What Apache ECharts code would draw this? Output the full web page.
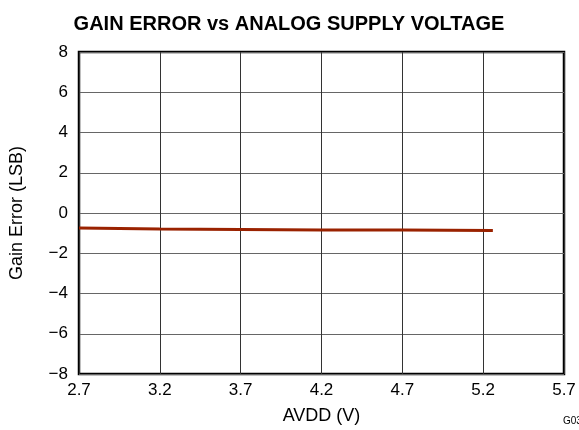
<!DOCTYPE html>
<html>
<head>
<meta charset="utf-8">
<script src="https://cdn.jsdelivr.net/npm/echarts@6/dist/echarts.min.js"></script>
<style>
  body { margin: 0; background: #fff; }
  #chart { width: 579px; height: 430px; }
</style>
</head>
<body>
<div id="chart"></div>
<script>
// AVDD (V) and gain error (LSB)
var avdd = [2.7, 3.2, 3.7, 4.2, 4.7, 5.26];
var gainError = [-0.75, -0.8, -0.82, -0.84, -0.85, -0.87];
var xStart = 2.7;   // axis starts here, ticks every 0.5

var font = '"Liberation Sans", Arial, sans-serif';
var points = avdd.map(function (v, i) { return [v - xStart, gainError[i]]; });

var chart = echarts.init(document.getElementById('chart'));
chart.setOption({
  animation: false,
  title: {
    text: 'GAIN ERROR vs ANALOG SUPPLY VOLTAGE',
    left: 284, top: 9, textAlign: 'center',
    textStyle: { fontFamily: font, fontSize: 20, fontWeight: 'bold', color: '#000' }
  },
  graphic: [{
    type: 'text', left: 563, top: 416,
    style: { text: 'G03', fontFamily: font, fontSize: 10, fill: '#000' }
  }],
  grid: {
    left: 79, right: 15, top: 52, bottom: 54,
    show: true, borderColor: '#000', borderWidth: 2.5
  },
  xAxis: {
    type: 'value', min: 0, max: 3, interval: 0.5,
    name: 'AVDD (V)', nameLocation: 'middle', nameGap: 33,
    nameTextStyle: { fontFamily: font, fontSize: 18, color: '#000' },
    axisLine: { show: false },
    axisTick: { show: false },
    axisLabel: {
      fontFamily: font, fontSize: 17, color: '#000', margin: 8,
      formatter: function (v) { return (v + xStart).toFixed(1); }
    },
    splitLine: { lineStyle: { color: '#333', width: 1 } }
  },
  yAxis: {
    type: 'value', min: -8, max: 8, interval: 2,
    name: 'Gain Error (LSB)', nameLocation: 'middle', nameGap: 53,
    nameTextStyle: { fontFamily: font, fontSize: 18, color: '#000' },
    axisLine: { show: false },
    axisTick: { show: false },
    axisLabel: {
      fontFamily: font, fontSize: 17, color: '#000', margin: 11,
      formatter: function (v) { return String(v).replace('-', '\u2212'); }
    },
    splitLine: { lineStyle: { color: '#666', width: 1 } }
  },
  series: [{
    type: 'line',
    data: points,
    showSymbol: false,
    lineStyle: { color: '#9a2200', width: 3 }
  }]
});
</script>
</body>
</html>
